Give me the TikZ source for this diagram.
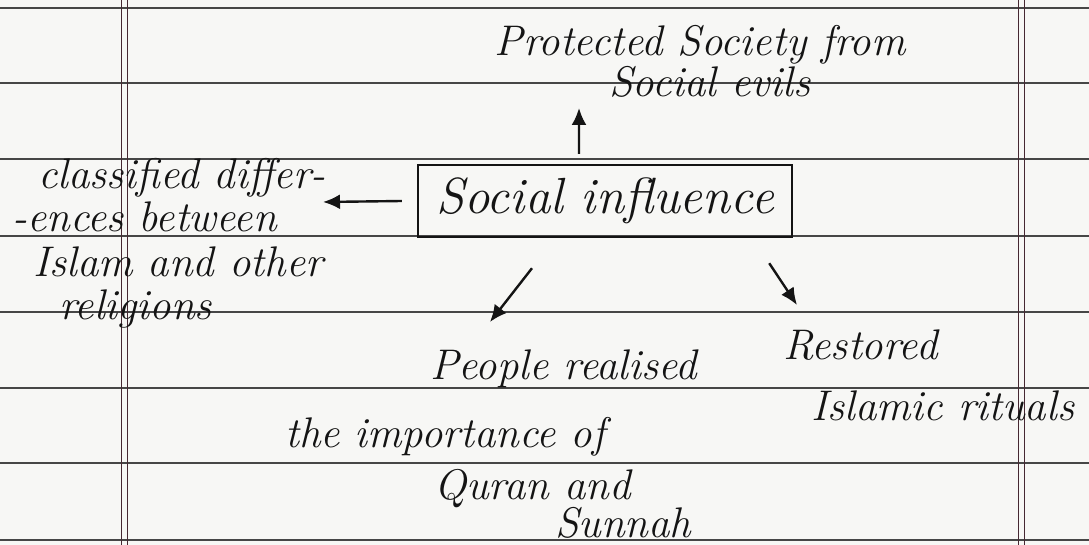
\documentclass[tikz,border=0pt]{standalone}
\usepackage{tikz}
\usetikzlibrary{arrows.meta,positioning,calc}
\usepackage{xcolor}
\definecolor{paperwhite}{RGB}{247,247,245}
\definecolor{ruleline}{RGB}{70,70,70}
\definecolor{marginred}{RGB}{70,40,50}
\definecolor{inkblack}{RGB}{20,20,20}

\begin{document}
\begin{tikzpicture}[
    x=1bp, y=-1bp,
    note/.style={font=\fontsize{43}{47}\selectfont\itshape, text=inkblack, inner sep=0pt},
    framebox/.style={draw=inkblack, line width=2.4bp, minimum width=374bp, minimum height=72bp,
        inner sep=0pt, font=\fontsize{51}{55}\selectfont\itshape, text=inkblack},
    arr/.style={draw=inkblack, line width=2.4bp, -{Latex[length=17bp,width=15bp]}}
]
\fill[paperwhite] (0,0) rectangle (1089,545);
\useasboundingbox (0,0) rectangle (1089,545);
\foreach \y in {8,83,159,236,312,388,463,540}
    \draw[ruleline, line width=1.8bp] (0,\y) -- (1089,\y);
\foreach \x in {121,127,1018,1024}
    \draw[marginred, line width=1bp] (\x,0) -- (\x,545);

\node[framebox] (box) at (605,201) {Social influence};
\node[note, align=center, anchor=north] (evils) at (700,25)
    {Protected Society from\\[-6bp]\hspace*{20bp}Social evils};
\node[note, align=left, anchor=north west] (classified) at (12,158)
    {\hspace*{26bp}classified differ-\\[-4bp]-ences between\\[-2bp]\hspace*{21bp}Islam and other\\[-3bp]\hspace*{47bp}religions};
\node[note, align=left, anchor=north west] (people) at (285,350)
    {\hspace*{145bp}People realised\\[21bp]the importance of\\[5bp]\hspace*{149bp}Quran and\\[-9bp]\hspace*{270bp}Sunnah};
\node[note, align=left, anchor=north west] (restored) at (783,330)
    {Restored\\[14bp]\hspace*{28bp}Islamic rituals};

\coordinate (uptip) at (579,108);
\coordinate (lefttip) at (323,202);
\coordinate (dltip) at (490,322);
\coordinate (drtip) at (797,305);
\draw[arr] ([xshift=-26bp,yshift=10bp]box.north) -- (uptip);
\draw[arr] ([xshift=-15bp]box.west) -- (lefttip);
\draw[arr] ([xshift=-73bp,yshift=-30bp]box.south) -- (dltip);
\draw[arr] ([xshift=-24bp,yshift=-25bp]box.south east) -- (drtip);
\end{tikzpicture}
\end{document}
